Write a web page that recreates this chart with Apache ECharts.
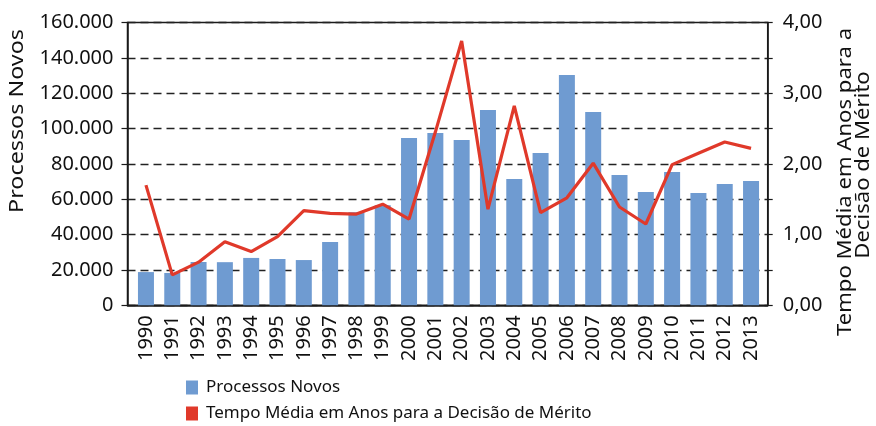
<!DOCTYPE html>
<html>
<head>
<meta charset="utf-8">
<script src="https://cdn.jsdelivr.net/npm/echarts@6/dist/echarts.min.js"></script>
<style>
html, body { margin: 0; padding: 0; background: #fff; }
#main { width: 876px; height: 426px; }
</style>
</head>
<body>
<div id="main"></div>
<script>
// dados
var anos = ['1990', '1991', '1992', '1993', '1994', '1995', '1996', '1997', '1998', '1999', '2000', '2001',
    '2002', '2003', '2004', '2005', '2006', '2007', '2008', '2009', '2010', '2011', '2012', '2013'];
var processosNovos = [18800, 18300, 24500, 24400, 26800, 26200, 25600, 35800, 52600, 56600, 94600, 97500,
    93500, 110500, 71400, 86200, 130300, 109400, 73700, 64100, 75400, 63500, 68600, 70300];
var tempoMedio = [1.70, 0.43, 0.61, 0.90, 0.76, 0.97, 1.34, 1.30, 1.29, 1.43, 1.22, 2.45,
    3.74, 1.36, 2.82, 1.31, 1.52, 2.01, 1.39, 1.15, 1.99, 2.15, 2.31, 2.22];
var ticksEsq = ['0', '20.000', '40.000', '60.000', '80.000', '100.000', '120.000', '140.000', '160.000'];
var ticksDir = ['0,00', '1,00', '2,00', '3,00', '4,00'];

var fonte = 'Noto Sans';
var preto = '#1a1a1a';

var myChart = echarts.init(document.getElementById('main'));

var option = {
    animation: false,
    textStyle: { fontFamily: fonte },
    legend: {
        orient: 'vertical',
        left: 186,
        bottom: 4,
        padding: 0,
        icon: 'rect',
        itemWidth: 12,
        itemHeight: 14,
        itemGap: 9,
        textStyle: { fontSize: 17, color: '#111', fontFamily: fonte, padding: [0, 0, 0, 3] },
        data: ['Processos Novos', 'Tempo Média em Anos para a Decisão de Mérito']
    },
    // grid 0: moldura e eixos; grid 1: dados
    grid: [
        { left: 127.5, right: 108.3, top: 22.5, bottom: 120.7, show: true, borderColor: preto, borderWidth: 1.5 },
        { left: 132.8, right: 111.8, top: 22.5, bottom: 120.7 }
    ],
    graphic: [
        {
            type: 'text', x: 18, y: 121, rotation: Math.PI / 2, scaleX: 1.227,
            style: { text: 'Processos Novos', align: 'center', verticalAlign: 'middle',
                fontSize: 19, fontFamily: fonte, fill: '#111' }
        },
        {
            type: 'text', x: 846, y: 182, rotation: Math.PI / 2, scaleX: 1.163,
            style: { text: 'Tempo Média em Anos para a', align: 'center', verticalAlign: 'middle',
                fontSize: 19, fontFamily: fonte, fill: '#111' }
        },
        {
            type: 'text', x: 864, y: 165, rotation: Math.PI / 2, scaleX: 1.163,
            style: { text: 'Decisão de Mérito', align: 'center', verticalAlign: 'middle',
                fontSize: 19, fontFamily: fonte, fill: '#111' }
        }
    ],
    xAxis: [
        {
            gridIndex: 0, type: 'value', min: 0, max: 1,
            axisLine: { show: true, lineStyle: { color: preto, width: 1.5 } },
            axisTick: { show: false }, axisLabel: { show: false }, splitLine: { show: false }
        },
        {
            gridIndex: 1, type: 'category', data: anos,
            axisLine: { show: false }, axisTick: { show: false },
            axisLabel: { interval: 0, rotate: 90, margin: 10, fontSize: 20, color: '#111', fontFamily: fonte }
        }
    ],
    yAxis: [
        {
            gridIndex: 0, type: 'value', min: 0, max: 160000, interval: 20000, position: 'left',
            axisLine: { show: true, lineStyle: { color: preto, width: 1.5 } },
            axisTick: { show: true, length: 6, lineStyle: { color: preto, width: 1.2 } },
            axisLabel: {
                margin: 14, fontSize: 20, color: '#111', fontFamily: fonte,
                formatter: function(v) { return ticksEsq[Math.round(v / 20000)]; }
            },
            splitLine: { show: true, lineStyle: { color: '#222', width: 1.4, type: [8, 5] } }
        },
        {
            gridIndex: 0, type: 'value', min: 0, max: 4, interval: 0.5, position: 'right',
            axisLine: { show: true, lineStyle: { color: preto, width: 1.5 } },
            axisTick: { show: true, length: 5, lineStyle: { color: preto, width: 1.2 } },
            axisLabel: {
                margin: 15, fontSize: 20, color: '#111', fontFamily: fonte,
                formatter: function(v) { return v % 1 === 0 ? ticksDir[v] : ''; }
            },
            splitLine: { show: false }
        },
        { gridIndex: 1, type: 'value', min: 0, max: 160000, show: false },
        { gridIndex: 1, type: 'value', min: 0, max: 4, show: false }
    ],
    series: [
        {
            name: 'Processos Novos',
            type: 'bar',
            xAxisIndex: 1,
            yAxisIndex: 2,
            barWidth: 16,
            itemStyle: { color: '#6f9bd1' },
            data: processosNovos
        },
        {
            name: 'Tempo Média em Anos para a Decisão de Mérito',
            type: 'line',
            xAxisIndex: 1,
            yAxisIndex: 3,
            symbol: 'none',
            lineStyle: { color: '#e0392a', width: 3.2 },
            itemStyle: { color: '#e0392a' },
            data: tempoMedio
        }
    ]
};

myChart.setOption(option);
</script>
</body>
</html>
